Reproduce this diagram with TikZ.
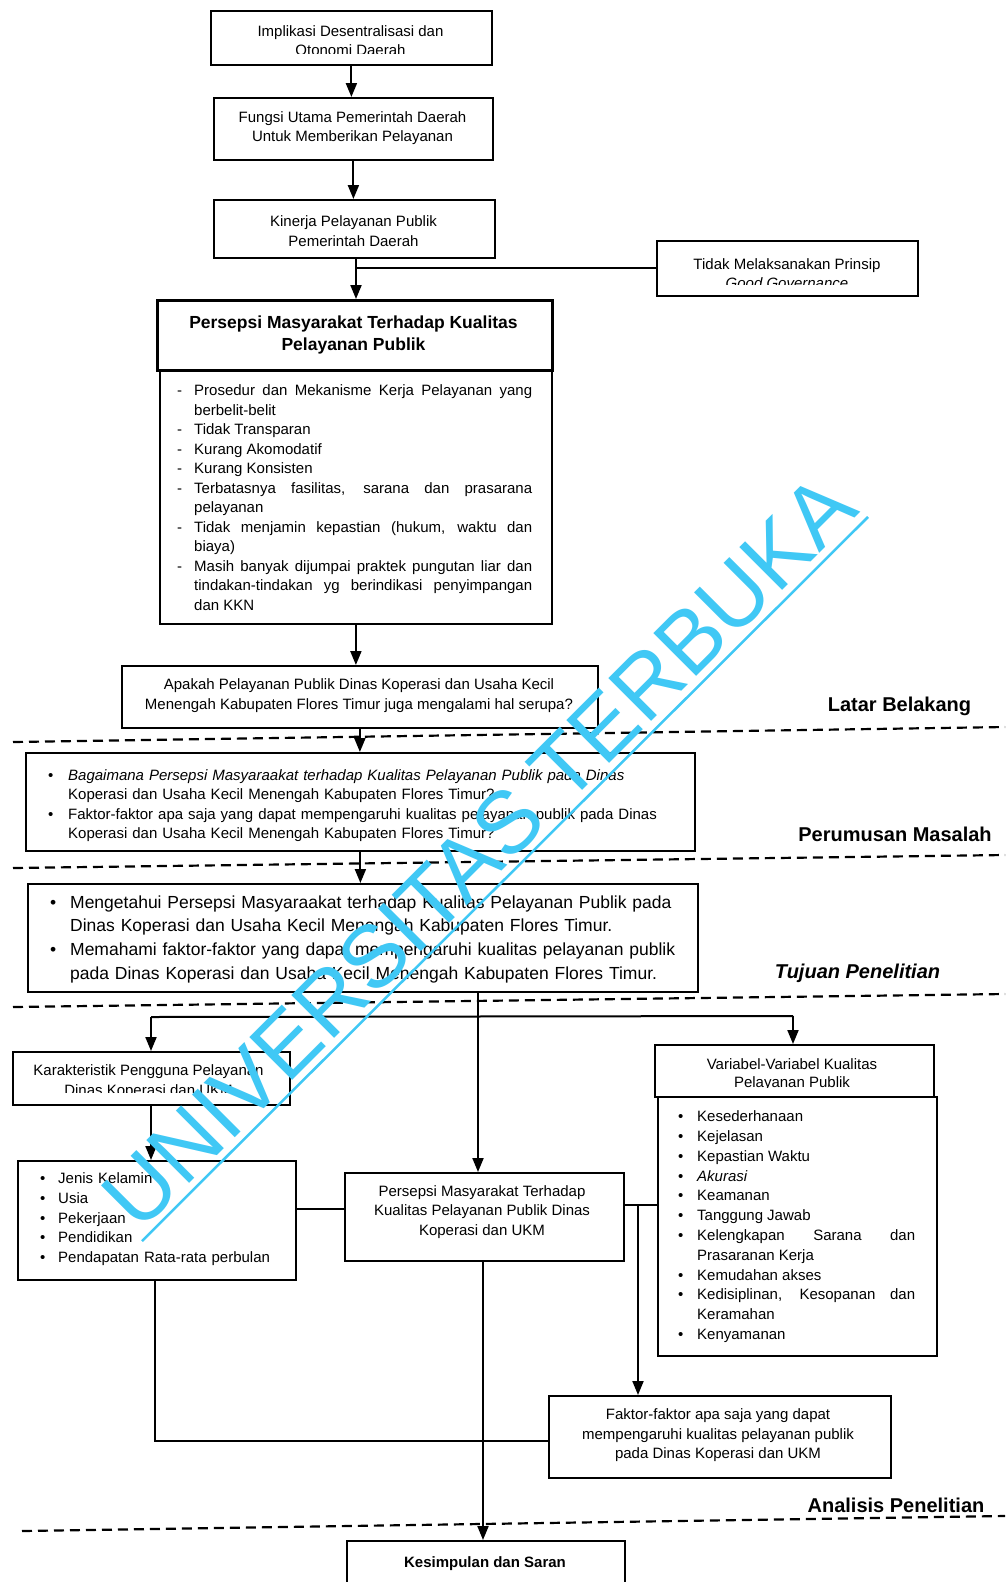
\documentclass[tikz,border=0pt]{standalone}
\usepackage{fontspec}
\setmainfont{Liberation Sans}
\usetikzlibrary{arrows.meta}
\definecolor{wmc}{RGB}{64,200,245}
\newcommand{\fs}[2]{\fontsize{#1}{#2}\selectfont}
\newcommand{\ditem}[2]{\par\noindent\hangindent=#1\hangafter=1\makebox[#1][l]{-}#2}
\newcommand{\bitem}[2]{\par\noindent\hangindent=#1\hangafter=1\makebox[#1][l]{\textbullet}#2}
\newcommand{\lsetup}{\parindent=0pt\tolerance=10000\hyphenpenalty=10000\exhyphenpenalty=10000\emergencystretch=20pt}
\tikzset{
  box/.style={draw, line width=1.8pt, inner sep=0pt, anchor=north west},
  arr/.style={line width=2pt, -{Triangle[length=14pt,width=11pt]}},
  conn/.style={line width=2pt},
  sep/.style={line width=2.2pt, dash pattern=on 10pt off 6pt},
  txt/.style={inner sep=0pt, align=center, font=\fs{15}{19.5}},
  lst/.style={inner sep=0pt, anchor=north west},
  lbl/.style={inner sep=0pt, anchor=base, font=\fs{20}{24}\bfseries},
}
\begin{document}
\begin{tikzpicture}[x=1pt,y=-1pt]
\useasboundingbox (0,0) rectangle (1005,1582);
\fill[white] (0,0) rectangle (1005,1582);

% ---------- boxes ----------
\node[box, minimum width=281pt, minimum height=54pt] (b1) at (210,10) {};
\node[box, minimum width=279pt, minimum height=62pt] (b2) at (213,97) {};
\node[box, minimum width=281pt, minimum height=58pt] (b3) at (213,199) {};
\node[box, minimum width=261pt, minimum height=55pt] (b4) at (656,240) {};
\node[box, line width=2.6pt, minimum width=395pt, minimum height=70pt] (b5h) at (156,299) {};
\node[box, minimum width=392pt, minimum height=254pt] (b5) at (159,369) {};
\node[box, minimum width=476pt, minimum height=62pt] (b6) at (121,665) {};
\node[box, minimum width=669pt, minimum height=98pt] (b7) at (25,752) {};
\node[box, minimum width=670pt, minimum height=108pt] (b8) at (27,883) {};
\node[box, minimum width=277pt, minimum height=53pt] (b9) at (12,1051) {};
\node[box, minimum width=279pt, minimum height=52pt] (b10h) at (654,1044) {};
\node[box, minimum width=279pt, minimum height=259pt] (b10) at (657,1096) {};
\node[box, minimum width=278pt, minimum height=119pt] (b11) at (17,1160) {};
\node[box, minimum width=279pt, minimum height=88pt] (b12) at (344,1172) {};
\node[box, minimum width=342pt, minimum height=82pt] (b13) at (548,1395) {};
\node[box, minimum width=278pt, minimum height=80pt] (b14) at (346,1540) {};

% ---------- texts ----------
\begin{scope}
  \clip (210,10) rectangle (491,53.5);
  \node[txt] (t1) at (350.5,40.8) {Implikasi Desentralisasi dan\\Otonomi Daerah};
\end{scope}
\node[txt] (t2) at (352.5,128) {Fungsi Utama Pemerintah Daerah\\Untuk Memberikan Pelayanan};
\node[txt] (t3) at (353.5,231) {Kinerja Pelayanan Publik\\Pemerintah Daerah};
\begin{scope}
  \clip (656,240) rectangle (917,284);
  \node[txt] (t4) at (787,273.5) {Tidak Melaksanakan Prinsip\\\textit{Good Governance}};
\end{scope}
\node[txt, font=\fs{17.5}{22}\bfseries] (t5) at (353.5,335) {Persepsi Masyarakat Terhadap Kualitas\\Pelayanan Publik};
\node[lst, text width=355pt, align=justify, font=\fs{15}{19.5}] (l5) at (177,376) {\lsetup
  \ditem{17pt}{Prosedur dan Mekanisme Kerja Pelayanan yang\linebreak berbelit-belit}
  \ditem{17pt}{Tidak Transparan}
  \ditem{17pt}{Kurang Akomodatif}
  \ditem{17pt}{Kurang Konsisten}
  \ditem{17pt}{Terbatasnya fasilitas, sarana dan prasarana\linebreak pelayanan}
  \ditem{17pt}{Tidak menjamin kepastian (hukum, waktu dan\linebreak biaya)}
  \ditem{17pt}{Masih banyak dijumpai praktek pungutan liar dan\linebreak tindakan-tindakan yg berindikasi penyimpangan\linebreak dan KKN}\par};
\node[txt, font=\fs{15}{20}] (t6) at (359,696) {Apakah Pelayanan Publik Dinas Koperasi dan Usaha Kecil\\Menengah Kabupaten Flores Timur juga mengalami hal serupa?};
\node[lst, text width=640pt, align=left, font=\fs{15}{19.3}] (l7) at (48,761) {\lsetup
  \bitem{20pt}{{\itshape Bagaimana Persepsi Masyaraakat terhadap Kualitas Pelayanan Publik pada Dinas}\newline Koperasi dan Usaha Kecil Menengah Kabupaten Flores Timur?}
  \bitem{20pt}{Faktor-faktor apa saja yang dapat mempengaruhi kualitas pelayanan publik pada Dinas\newline Koperasi dan Usaha Kecil Menengah Kabupaten Flores Timur?}\par};
\node[lst, text width=640pt, align=left, font=\fs{17.5}{23.6}] (l8) at (50,884.5) {\lsetup
  \bitem{20pt}{Mengetahui Persepsi Masyaraakat terhadap Kualitas Pelayanan Publik pada\newline Dinas Koperasi dan Usaha Kecil Menengah Kabupaten Flores Timur.}
  \bitem{20pt}{Memahami faktor-faktor yang dapat mempengaruhi kualitas pelayanan publik\newline pada Dinas Koperasi dan Usaha Kecil Menengah Kabupaten Flores Timur.}\par};
\begin{scope}
  \clip (12,1051) rectangle (289,1092);
  \node[txt] (t9) at (148.5,1081.5) {Karakteristik Pengguna Pelayanan\\Dinas Koperasi dan UKM};
\end{scope}
\begin{scope}
  \clip (654,1044) rectangle (933,1087);
  \node[txt, font=\fs{15}{18.5}] (t10) at (792,1074.5) {Variabel-Variabel Kualitas\\Pelayanan Publik};
\end{scope}
\node[lst, text width=237pt, align=justify, font=\fs{15}{19.8}] (l10) at (678,1101.6) {\lsetup
  \bitem{19pt}{Kesederhanaan}
  \bitem{19pt}{Kejelasan}
  \bitem{19pt}{Kepastian Waktu}
  \bitem{19pt}{\textit{Akurasi}}
  \bitem{19pt}{Keamanan}
  \bitem{19pt}{Tanggung Jawab}
  \bitem{19pt}{Kelengkapan Sarana dan\linebreak Prasaranan Kerja}
  \bitem{19pt}{Kemudahan akses}
  \bitem{19pt}{Kedisiplinan, Kesopanan dan\linebreak Keramahan}
  \bitem{19pt}{Kenyamanan}\par};
\node[lst, text width=250pt, align=left, font=\fs{15}{19.7}] (l11) at (40,1163.7) {\lsetup
  \bitem{18pt}{Jenis Kelamin}
  \bitem{18pt}{Usia}
  \bitem{18pt}{Pekerjaan}
  \bitem{18pt}{Pendidikan}
  \bitem{18pt}{Pendapatan Rata-rata perbulan}\par};
\node[txt] (t12) at (482,1212) {Persepsi Masyarakat Terhadap\\Kualitas Pelayanan Publik Dinas\\Koperasi dan UKM};
\node[txt] (t13) at (718,1435.5) {Faktor-faktor apa saja yang dapat\\mempengaruhi kualitas pelayanan publik\\pada Dinas Koperasi dan UKM};
\node[txt, anchor=base, font=\fs{15}{18}\bfseries] (t14) at (485,1567) {Kesimpulan dan Saran};

% ---------- section labels ----------
\node[lbl] (s1) at (899.5,711) {Latar Belakang};
\node[lbl] (s2) at (895,841) {Perumusan Masalah};
\node[lbl, font=\fs{20}{24}\bfseries\itshape] (s3) at (857.5,978) {Tujuan Penelitian};
\node[lbl] (s4) at (896,1512) {Analisis Penelitian};

% ---------- dashed separators ----------
\draw[sep] (13,742) -- (1005,727);
\draw[sep] (13,868) -- (1005,855);
\draw[sep] (13,1007) -- (1005,994);
\draw[sep] (22,1531) -- (1005,1516);

% ---------- connectors ----------
\coordinate (j0) at (356,268);
\coordinate (j1) at (478,1017);
\coordinate (j1l) at (151,1017);
\coordinate (j1r) at (793,1016);
\coordinate (h1) at (0,1209);
\coordinate (h2) at (638,1205);
\coordinate (h3) at (0,1441);
\coordinate (v3) at (483,0);
\coordinate (v4) at (155,0);

\draw[arr] (b1.south) -- (b1.south |- b2.north);
\draw[arr] (b2.south) -- (b2.south |- b3.north);
\draw[arr] (b3.south -| j0) -- (j0 |- b5h.north);
\draw[conn] (b4.west |- j0) -- (j0);
\draw[arr] (b5.south) -- (b5.south |- b6.north);
\draw[arr] (b6.south) -- (b6.south |- b7.north);
\draw[arr] (b7.south) -- (b7.south |- b8.north);
\draw[arr] (b8.south -| j1) -- (j1 |- b12.north);
\draw[conn] (j1l) -- (j1r);
\draw[arr] (j1l) -- (j1l |- b9.north);
\draw[arr] (j1r) -- (j1r |- b10h.north);
\draw[arr] (b9.south -| j1l) -- (j1l |- b11.north);
\draw[conn] (b11.east |- h1) -- (b12.west |- h1);
\draw[conn] (b12.east |- h2) -- (b10.west |- h2);
\draw[arr] (h2) -- (h2 |- b13.north);
\draw[conn] (b11.south -| v4) |- (b13.west |- h3);
\draw[arr] (b12.south -| v3) -- (v3 |- b14.north);

% ---------- watermark ----------
\node[inner sep=0pt, anchor=base, rotate=45, text=wmc, font=\fs{88}{100}] (wm) at (500,873) {UNIVERSITAS TERBUKA};
\draw[wmc, line width=2.5pt] (142,1241) -- (868,517);
\end{tikzpicture}
\end{document}
